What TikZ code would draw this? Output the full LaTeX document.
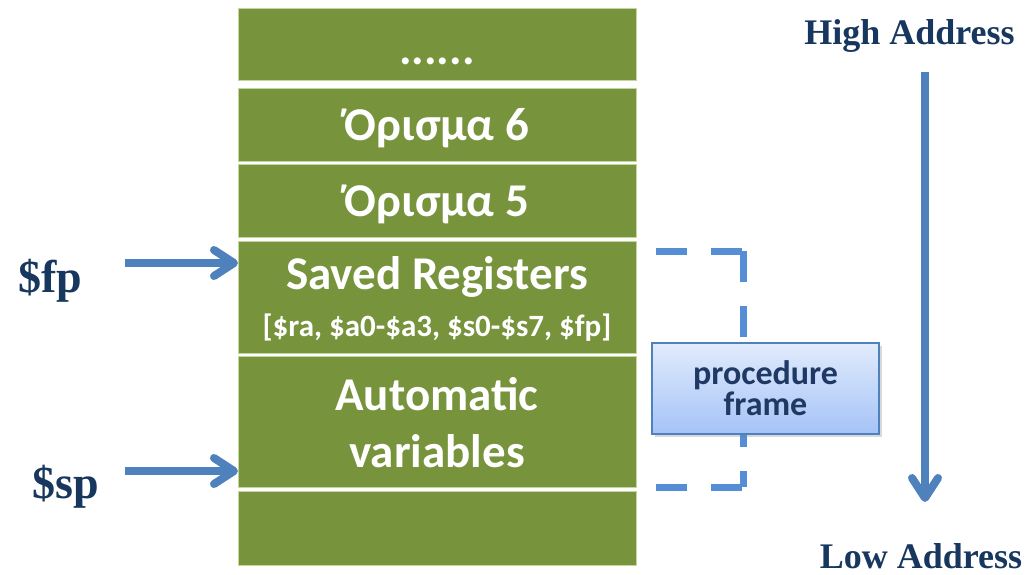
\documentclass[tikz,border=0pt]{standalone}
\usepackage{fontspec}
\setmainfont{Liberation Serif}
\newfontfamily\calibri{Carlito}
\usepackage{tikz}
\usetikzlibrary{%
  positioning
 ,arrows.meta
 ,shadows
}
\definecolor{stackgreen}{HTML}{77933C}
\definecolor{stackedge}{HTML}{C3D69B}
\definecolor{ptrblue}{HTML}{4F81BD}
\definecolor{dashblue}{HTML}{558ED5}
\definecolor{navy}{HTML}{17375E}
\definecolor{framenavy}{HTML}{1F3864}
\tikzstyle{blk}=[rectangle,fill=stackgreen,draw=stackedge,line width=0.5pt,outer sep=0pt,inner sep=2pt,
  minimum width=199pt,text=white,align=center,text depth=0pt,
  font=\calibri\bfseries\fontsize{23.5}{28.5}\selectfont]
\tikzstyle{ptr}=[draw=ptrblue,line width=4pt,-{Straight Barb[length=10pt,width=13pt,round]}]
\tikzstyle{reg}=[text=navy,font=\bfseries\fontsize{23}{26}\selectfont,anchor=base,inner sep=0pt]
\tikzstyle{addr}=[text=navy,font=\bfseries\fontsize{18}{20}\selectfont,anchor=base,inner sep=0pt]
\tikzstyle{brk}=[draw=dashblue,line width=3.5pt,dash pattern=on 15.5pt off 12pt]
\tikzstyle{framebox}=[rectangle,draw=ptrblue,line width=0.8pt,
  top color={rgb,255:red,225;green,235;blue,252},bottom color={rgb,255:red,165;green,195;blue,247},
  minimum width=113.5pt,minimum height=45.5pt,align=center,text=framenavy,
  font=\calibri\bfseries\fontsize{17}{15.5}\selectfont,
  drop shadow={opacity=0.3,shadow xshift=1.5pt,shadow yshift=-1.5pt}]

\begin{document}
\begin{tikzpicture}[x=0.5pt,y=-0.5pt]
  \useasboundingbox (0,0) rectangle (1027,574);
  % the stack, top to bottom
  \node[blk,minimum height=36pt]   (dots) at (437,44)              {\vphantom{Ό}\raisebox{-2.5pt}{......}};
  \node[blk,minimum height=36.5pt] (arg6) [below=4pt of dots]      {Όρισμα 6};
  \node[blk,minimum height=36.5pt] (arg5) [below=1.75pt of arg6]   {Όρισμα 5};
  \node[blk,minimum height=56pt]   (regs) [below=1.75pt of arg5]
    {Saved Registers\\[-5pt]{\fontsize{15.5}{16}\selectfont [\$ra, \$a0-\$a3, \$s0-\$s7, \$fp]}};
  \node[blk,minimum height=65.5pt] (autov) [below=1.75pt of regs]  {Automatic\\variables};
  \node[blk,minimum height=37pt]   (free) [below=1.75pt of autov]  {};

  % frame and stack pointers
  \node[reg] (fp) at (50,292) {\$fp};
  \node[reg] (sp) at (66,498) {\$sp};
  \coordinate (fptail) at (125,263);
  \coordinate (sptail) at (125,471);
  \draw[ptr] (fptail) -- (fptail -| regs.west);
  \draw[ptr] (sptail) -- (sptail -| autov.west);

  % bracket round the procedure frame
  \coordinate (brk-tl) at (656,251);
  \coordinate (brk-tr) at (743,251);
  \coordinate (brk-br) at (743,487);
  \coordinate (brk-bl) at (656,487);
  \draw[brk] (brk-tl) -- (brk-tr);
  \draw[brk] (brk-tr) -- (brk-br);
  \draw[brk] (brk-bl) -- (brk-br);
  \node[framebox] (frame) at (765.5,388.5) {procedure\\frame};

  % address direction
  \node[addr] (hi) at (909.5,44)  {High Address};
  \node[addr] (lo) at (921,568)   {Low Address};
  \coordinate (growtop) at (925,72);
  \coordinate (growbot) at (925,502);
  \draw[ptr] (growtop) -- (growbot);
\end{tikzpicture}
\end{document}
